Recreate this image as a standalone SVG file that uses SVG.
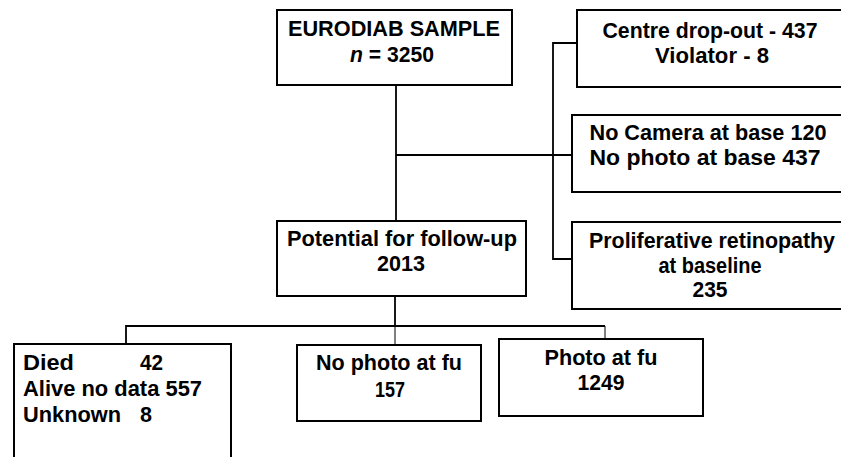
<svg xmlns="http://www.w3.org/2000/svg" width="841" height="457" viewBox="0 0 841 457">
<style>
.box{fill:#fff;stroke:#000;stroke-width:2}
.t{font-family:"Liberation Sans",Arial,sans-serif;font-weight:bold;font-size:21.5px;fill:#000}
.m{text-anchor:middle}
.c{fill:none;stroke:#000;stroke-width:1.8}
.thin{fill:none;stroke:#000;stroke-width:1}
</style>
<rect width="841" height="457" fill="#fff"/>
<g id="connectors">
<path class="c" d="M396,85 V221"/>
<path class="c" d="M396,155 H572"/>
<path class="c" d="M577,43 H553 V259 H572"/>
<path class="c" d="M395,296 V326"/>
<path class="c" d="M126,344 V326 H605"/>
<path class="thin" d="M395,326 V345"/>
<path class="thin" d="M605,326 V339"/>
</g>
<g id="eurodiab">
<rect class="box" x="277" y="10" width="235" height="75"/>
<text class="t m" x="394" y="36" textLength="212" lengthAdjust="spacingAndGlyphs">EURODIAB SAMPLE</text>
<text class="t m" x="392" y="62" textLength="84" lengthAdjust="spacingAndGlyphs"><tspan font-style="italic">n</tspan> = 3250</text>
</g>
<g id="centre-dropout">
<rect class="box" x="577" y="10" width="270" height="77"/>
<text class="t m" x="710" y="38" textLength="215" lengthAdjust="spacingAndGlyphs">Centre drop-out - 437</text>
<text class="t m" x="712" y="63" textLength="114" lengthAdjust="spacingAndGlyphs">Violator - 8</text>
</g>
<g id="no-camera">
<rect class="box" x="572" y="115" width="275" height="77"/>
<text class="t m" x="708" y="140" textLength="237" lengthAdjust="spacingAndGlyphs">No Camera at base 120</text>
<text class="t m" x="705" y="165" textLength="231" lengthAdjust="spacingAndGlyphs">No photo at base 437</text>
</g>
<g id="proliferative">
<rect class="box" x="572" y="222" width="275" height="87"/>
<text class="t m" x="712" y="248" textLength="246" lengthAdjust="spacingAndGlyphs">Proliferative retinopathy</text>
<text class="t m" x="710" y="273" textLength="103" lengthAdjust="spacingAndGlyphs">at baseline</text>
<text class="t m" x="710" y="297" textLength="35" lengthAdjust="spacingAndGlyphs">235</text>
</g>
<g id="potential">
<rect class="box" x="277" y="221" width="249" height="75"/>
<text class="t m" x="402" y="246" textLength="230" lengthAdjust="spacingAndGlyphs">Potential for follow-up</text>
<text class="t m" x="401" y="271" textLength="48" lengthAdjust="spacingAndGlyphs">2013</text>
</g>
<g id="died">
<rect class="box" x="14" y="344" width="217" height="120"/>
<text class="t" x="23" y="370" textLength="51" lengthAdjust="spacingAndGlyphs">Died</text>
<text class="t" x="140" y="370" textLength="23" lengthAdjust="spacingAndGlyphs">42</text>
<text class="t" x="23" y="396" textLength="179" lengthAdjust="spacingAndGlyphs">Alive no data 557</text>
<text class="t" x="23" y="422" textLength="98" lengthAdjust="spacingAndGlyphs">Unknown</text>
<text class="t" x="140" y="422" textLength="12" lengthAdjust="spacingAndGlyphs">8</text>
</g>
<g id="no-photo-fu">
<rect class="box" x="297" y="345" width="184" height="76"/>
<text class="t m" x="389" y="370" textLength="146" lengthAdjust="spacingAndGlyphs">No photo at fu</text>
<text class="t m" x="390" y="397" textLength="30" lengthAdjust="spacingAndGlyphs">157</text>
</g>
<g id="photo-fu">
<rect class="box" x="499" y="339" width="204" height="77"/>
<text class="t m" x="601" y="365" textLength="113" lengthAdjust="spacingAndGlyphs">Photo at fu</text>
<text class="t m" x="601" y="390" textLength="47" lengthAdjust="spacingAndGlyphs">1249</text>
</g>
</svg>
